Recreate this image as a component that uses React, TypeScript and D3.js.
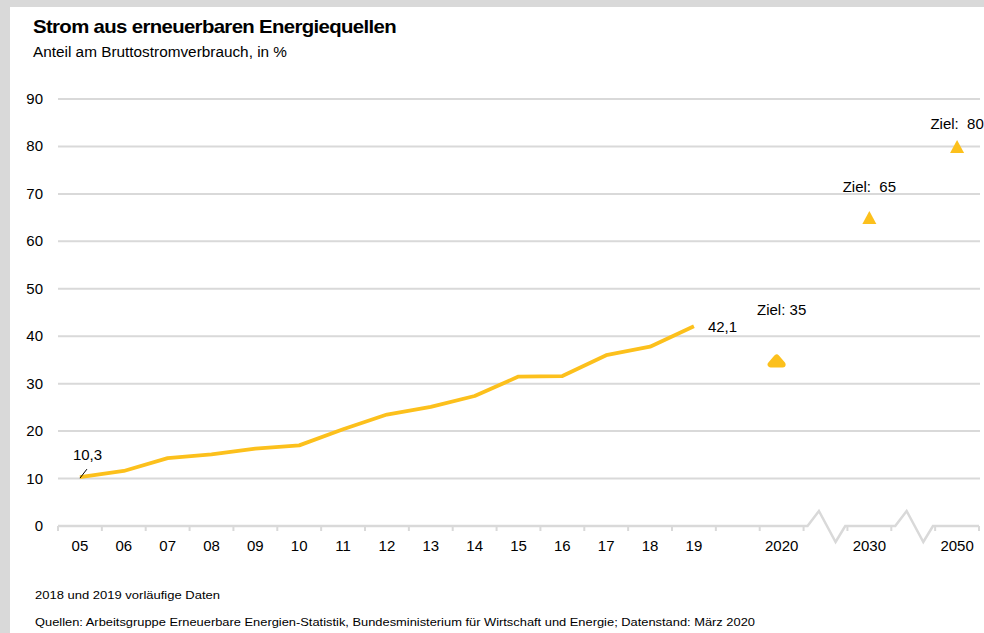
import React from "react";
import * as d3 from "d3";

const years = ["05","06","07","08","09","10","11","12","13","14","15","16","17","18","19"];
const shares = [10.3, 11.6, 14.3, 15.1, 16.3, 17.0, 20.4, 23.5, 25.1, 27.4, 31.5, 31.6, 36.0, 37.8, 42.1];
const targetYears = ["2020", "2030", "2050"];
const targetValues = [35, 65, 80];
const targetLabels = ["Ziel: 35", "Ziel:  65", "Ziel:  80"];
const slots = [...years, "gap", "2020", "break1", "2030", "break2", "2050"];
const yTicks = [0, 10, 20, 30, 40, 50, 60, 70, 80, 90];

const W = 984, H = 633;
const YELLOW = "#fcc01c";
const GRID = "#d9d9d9";
const FONT = "'Liberation Sans', Arial, sans-serif";

export default function App() {
  const x = d3.scaleBand<string>().domain(slots).range([58, 979]).paddingInner(0).paddingOuter(0);
  const y = d3.scaleLinear().domain([0, 90]).range([526, 99]);
  const bw = x.bandwidth();
  const cx = (s: string) => (x(s) as number) + bw / 2;

  const line = d3.line<number>()
    .x((_, i) => cx(years[i]))
    .y((d) => y(d));

  const y0 = y(0);
  const axisPath = d3.path();
  const seg = (a: number, b: number) => { axisPath.moveTo(a, y0); axisPath.lineTo(b, y0); };
  const zig = (a: number) => {
    axisPath.moveTo(a, y0);
    axisPath.lineTo(a + bw * 0.09, y0);
    axisPath.lineTo(a + bw * 0.35, y0 - 15);
    axisPath.lineTo(a + bw * 0.73, y0 + 16);
    axisPath.lineTo(a + bw * 0.95, y0);
    axisPath.lineTo(a + bw, y0);
  };
  const b1 = x("break1") as number;
  const b2 = x("break2") as number;
  seg(x(slots[0]) as number, b1);
  zig(b1);
  seg(b1 + bw, b2);
  zig(b2);
  seg(b2 + bw, (x("2050") as number) + bw);
  const tickXs: number[] = [];
  slots.forEach((s) => {
    if (s.startsWith("break")) return;
    const l = x(s) as number;
    tickXs.push(l);
    tickXs.push(l + bw);
  });
  const uniqTicks = Array.from(new Set(tickXs.map((v) => Math.round(v * 100) / 100)));

  const tri = (px: number, py: number, w: number, h: number) =>
    `M${px - w / 2},${py + h / 2}L${px + w / 2},${py + h / 2}L${px},${py - h / 2}Z`;

  const labelOffsets = [45, 26, 17];

  return (
    <svg width={W} height={H} style={{ position: "absolute", left: 0, top: 0 }} fontFamily={FONT}>
      <rect x={0} y={0} width={W} height={H} fill="#d9d9d9" />
      <rect x={10} y={7} width={W - 10} height={H - 7} fill="#ffffff" />
      <text x={33} y={33} fontSize={19} fontWeight="bold" fill="#000" textLength={363} lengthAdjust="spacingAndGlyphs" letterSpacing={-0.6}>
        Strom aus erneuerbaren Energiequellen
      </text>
      <text x={33} y={57} fontSize={14} fill="#000" textLength={254} lengthAdjust="spacingAndGlyphs">
        Anteil am Bruttostromverbrauch, in %
      </text>

      {yTicks.filter((t) => t > 0).map((t) => (
        <line key={t} x1={58} x2={980} y1={y(t)} y2={y(t)} stroke={GRID} strokeWidth={2} />
      ))}
      {yTicks.map((t) => (
        <text key={t} x={43} y={y(t) + 5} fontSize={15} textAnchor="end" fill="#000">{t}</text>
      ))}

      <path d={axisPath.toString()} fill="none" stroke={GRID} strokeWidth={2.5} strokeLinejoin="miter" />
      {uniqTicks.map((t) => (
        <line key={t} x1={t} x2={t} y1={y0} y2={y0 + 5} stroke={GRID} strokeWidth={2} />
      ))}
      {[...years, ...targetYears].map((s) => (
        <text key={s} x={cx(s)} y={551} fontSize={15} textAnchor="middle" fill="#000">{s}</text>
      ))}

      <path d={line(shares) || ""} fill="none" stroke={YELLOW} strokeWidth={3.8} strokeLinejoin="round" strokeLinecap="butt" />

      <line x1={cx(years[0])} y1={y(shares[0]) + 1} x2={cx(years[0]) + 7} y2={y(shares[0]) - 8} stroke="#000" strokeWidth={1} />
      <text x={cx(years[0]) - 7} y={y(shares[0]) - 17} fontSize={15} fill="#000">{String(shares[0]).replace(".", ",")}</text>
      <text x={cx(years[years.length - 1]) + 14} y={y(shares[shares.length - 1]) + 6} fontSize={15} fill="#000">
        {String(shares[shares.length - 1]).replace(".", ",")}
      </text>

      {targetYears.map((s, i) => {
        const px = cx(s);
        const py = y(targetValues[i]);
        return (
          <g key={s}>
            {i === 0 ? (
              <path d={tri(px - 5, py + 1, 12, 7)} fill={YELLOW} stroke={YELLOW} strokeWidth={6} strokeLinejoin="round" />
            ) : (
              <path d={tri(px, py, 14, 13)} fill={YELLOW} />
            )}
            <text x={px} y={py - labelOffsets[i]} fontSize={15} textAnchor="middle" fill="#000" style={{ whiteSpace: "pre" }}>{targetLabels[i]}</text>
          </g>
        );
      })}

      <text x={35} y={599} fontSize={11.5} fill="#000" textLength={185} lengthAdjust="spacingAndGlyphs">2018 und 2019 vorläufige Daten</text>
      <text x={35} y={626} fontSize={11.5} fill="#000" textLength={720} lengthAdjust="spacingAndGlyphs">
        Quellen: Arbeitsgruppe Erneuerbare Energien-Statistik, Bundesministerium für Wirtschaft und Energie; Datenstand: März 2020
      </text>
    </svg>
  );
}
